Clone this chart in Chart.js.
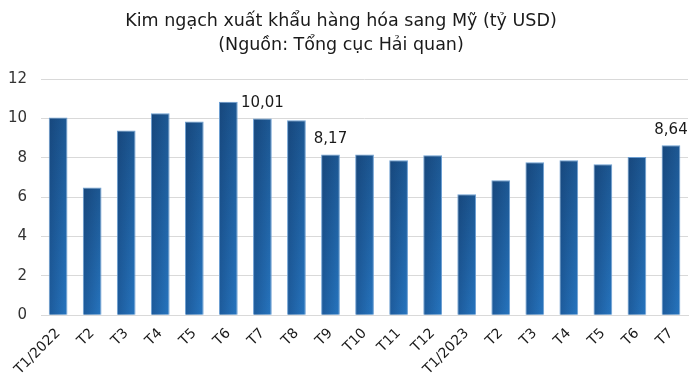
<!DOCTYPE html>
<html>
<head>
<meta charset="utf-8">
<script src="https://cdn.jsdelivr.net/npm/chart.js@4"></script>
<style>
  html, body { margin: 0; padding: 0; background: #fff; }
  #wrap { width: 700px; height: 392px; }
</style>
</head>
<body>
<div id="wrap"><canvas id="chart" width="700" height="392"></canvas></div>
<script>
const months = ['T1/2022', 'T2', 'T3', 'T4', 'T5', 'T6', 'T7', 'T8', 'T9', 'T10', 'T11', 'T12',
  'T1/2023', 'T2', 'T3', 'T4', 'T5', 'T6', 'T7'];
const exportValues = [10.05, 6.49, 9.40, 10.27, 9.85, 10.86, 10.01, 9.91, 8.17, 8.18, 7.88, 8.13,
  6.15, 6.86, 7.78, 7.88, 7.68, 8.05, 8.64];
const labelledBars = [6, 8, 18];
const yTicks = [0, 2, 4, 6, 8, 10, 12];

const FONT = '"DejaVu Sans", Verdana, sans-serif';

// per-bar vertical gradient, dark at top
function barFill(ctx) {
  const chart = ctx.chart;
  if (!chart.chartArea) return '#1f62a6';
  const y = chart.scales.y;
  const top = y.getPixelForValue(exportValues[ctx.dataIndex]);
  const bottom = y.getPixelForValue(0);
  const g = chart.ctx.createLinearGradient(0, top, 0, bottom);
  g.addColorStop(0, '#1d5893');
  g.addColorStop(1, '#2674be');
  return g;
}

// darker shading on the left side of every bar
const barShade = {
  id: 'barShade',
  afterDatasetsDraw(chart) {
    const c = chart.ctx;
    chart.getDatasetMeta(0).data.forEach((bar) => {
      const left = bar.x - bar.width / 2 + 1;
      const right = bar.x + bar.width / 2 - 1;
      const g = c.createLinearGradient(left, 0, right, 0);
      g.addColorStop(0, 'rgba(8, 30, 70, 0.28)');
      g.addColorStop(1, 'rgba(8, 30, 70, 0)');
      c.save();
      c.fillStyle = g;
      c.fillRect(left, bar.y + 1, right - left, bar.base - bar.y - 1);
      c.restore();
    });
  }
};

const valueLabels = {
  id: 'valueLabels',
  afterDatasetsDraw(chart) {
    const c = chart.ctx;
    const meta = chart.getDatasetMeta(0);
    c.save();
    c.font = '15px ' + FONT;
    c.fillStyle = '#1a1a1a';
    c.textAlign = 'center';
    c.textBaseline = 'bottom';
    labelledBars.forEach((i) => {
      const bar = meta.data[i];
      c.fillText(exportValues[i].toFixed(2).replace('.', ','), bar.x, bar.y - 8);
    });
    c.restore();
  }
};

new Chart(document.getElementById('chart'), {
  type: 'bar',
  data: {
    labels: months,
    datasets: [{
      data: exportValues,
      backgroundColor: barFill,
      borderColor: '#6d9fd2',
      borderWidth: 1,
      categoryPercentage: 1,
      barPercentage: 0.55
    }]
  },
  options: {
    responsive: false,
    animation: false,
    layout: { padding: { left: -6, right: 12, bottom: 12 } },
    plugins: {
      legend: { display: false },
      tooltip: { enabled: false },
      title: {
        display: true,
        text: ['Kim ngạch xuất khẩu hàng hóa sang Mỹ (tỷ USD)', '(Nguồn: Tổng cục Hải quan)'],
        color: '#1a1a1a',
        font: { family: FONT, size: 17.5, weight: 'normal', lineHeight: 1.35 },
        padding: { top: 10, bottom: 22 }
      }
    },
    scales: {
      x: {
        grid: { display: false },
        border: { color: '#d9d9d9', width: 1 },
        ticks: {
          color: '#1a1a1a',
          font: { family: FONT, size: 14 },
          maxRotation: 45,
          minRotation: 45,
          autoSkip: false,
          padding: 2
        }
      },
      y: {
        min: 0,
        max: 12,
        afterBuildTicks: (axis) => { axis.ticks = yTicks.map((v) => ({ value: v })); },
        grid: { color: '#d9d9d9', drawTicks: false },
        border: { display: false },
        ticks: {
          color: '#333',
          font: { family: FONT, size: 15 },
          padding: 14
        }
      }
    }
  },
  plugins: [barShade, valueLabels]
});
</script>
</body>
</html>
